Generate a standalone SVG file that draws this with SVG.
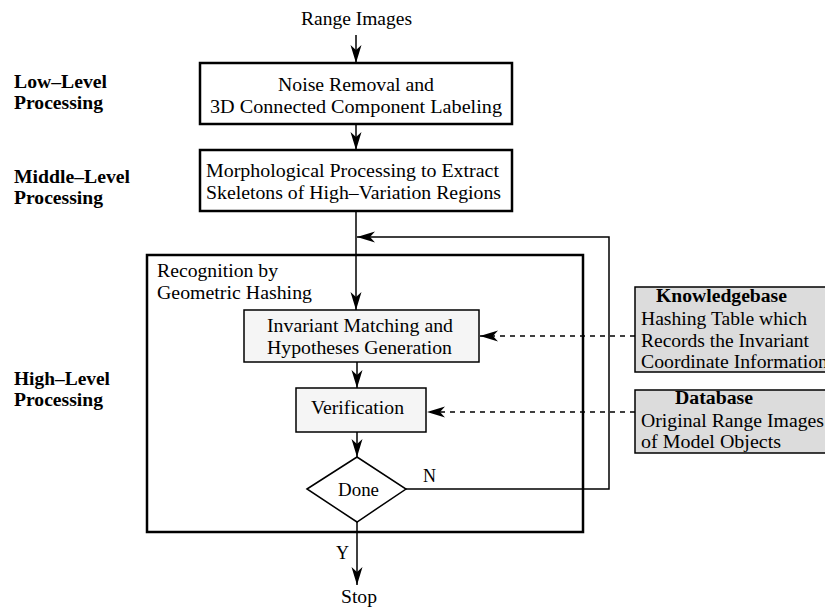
<svg xmlns="http://www.w3.org/2000/svg" width="825" height="610" viewBox="0 0 825 610">
<defs>
<marker id="ah" viewBox="-19 -6 20 12" markerWidth="20" markerHeight="12" refX="0" refY="0" markerUnits="userSpaceOnUse" orient="auto">
<path d="M0,0 L-18,-5.5 L-13,0 L-18,5.5 Z" fill="#000"/>
</marker>
</defs>
<style>
text{font-family:"Liberation Serif","Times New Roman",serif;font-size:18px;fill:#000}
.b{font-weight:bold}
.thick{fill:#fff;stroke:#000;stroke-width:2.5}
.inner{fill:#f5f5f5;stroke:#000;stroke-width:1.5}
.gray{fill:#dcdcdc;stroke:#000;stroke-width:1.5}
.c{fill:none;stroke:#000;stroke-width:1.5}
.d{fill:none;stroke:#000;stroke-width:1.5;stroke-dasharray:5,5}
</style>
<rect width="825" height="610" fill="#fff"/>

<g id="labels">
<text class="b" x="14" y="88" textLength="93" lengthAdjust="spacingAndGlyphs">Low–Level</text>
<text class="b" x="14" y="109" textLength="89" lengthAdjust="spacingAndGlyphs">Processing</text>
<text class="b" x="14" y="183" textLength="116" lengthAdjust="spacingAndGlyphs">Middle–Level</text>
<text class="b" x="14" y="204" textLength="89" lengthAdjust="spacingAndGlyphs">Processing</text>
<text class="b" x="14" y="385" textLength="96" lengthAdjust="spacingAndGlyphs">High–Level</text>
<text class="b" x="14" y="406" textLength="89" lengthAdjust="spacingAndGlyphs">Processing</text>
</g>

<g id="range-images">
<text x="301" y="25" textLength="111" lengthAdjust="spacingAndGlyphs">Range Images</text>
</g>

<g id="noise-removal">
<rect class="thick" x="200" y="63" width="312" height="61"/>
<text x="278" y="91" textLength="156" lengthAdjust="spacingAndGlyphs">Noise Removal and</text>
<text x="210" y="113" textLength="292" lengthAdjust="spacingAndGlyphs">3D Connected Component Labeling</text>
</g>

<g id="morphological">
<rect class="thick" x="200" y="150" width="312" height="61"/>
<text x="206" y="177" textLength="293" lengthAdjust="spacingAndGlyphs">Morphological Processing to Extract</text>
<text x="206" y="199" textLength="295" lengthAdjust="spacingAndGlyphs">Skeletons of High–Variation Regions</text>
</g>

<g id="recognition">
<rect class="thick" x="147" y="255" width="436" height="277" fill="none"/>
<text x="157" y="277" textLength="121" lengthAdjust="spacingAndGlyphs">Recognition by</text>
<text x="157" y="299" textLength="155" lengthAdjust="spacingAndGlyphs">Geometric Hashing</text>
</g>

<g id="invariant-matching">
<rect class="inner" x="244" y="310" width="235" height="52"/>
<text x="267" y="332" textLength="186" lengthAdjust="spacingAndGlyphs">Invariant Matching and</text>
<text x="267" y="354" textLength="185" lengthAdjust="spacingAndGlyphs">Hypotheses Generation</text>
</g>

<g id="verification">
<rect class="inner" x="296" y="388" width="130" height="44"/>
<text x="311" y="414" textLength="93" lengthAdjust="spacingAndGlyphs">Verification</text>
</g>

<g id="done">
<polygon class="c" points="307,489 357,457 406,489 357,522" fill="#fff"/>
<text x="338" y="496" textLength="41" lengthAdjust="spacingAndGlyphs">Done</text>
</g>

<g id="stop">
<text x="341" y="603" textLength="36" lengthAdjust="spacingAndGlyphs">Stop</text>
</g>

<g id="knowledgebase">
<rect class="gray" x="635" y="287" width="200" height="85"/>
<text class="b" x="656" y="302" textLength="131" lengthAdjust="spacingAndGlyphs">Knowledgebase</text>
<text x="641" y="325" textLength="166" lengthAdjust="spacingAndGlyphs">Hashing Table which</text>
<text x="641" y="347" textLength="168" lengthAdjust="spacingAndGlyphs">Records the Invariant</text>
<text x="641" y="368" textLength="187" lengthAdjust="spacingAndGlyphs">Coordinate Information</text>
</g>

<g id="database">
<rect class="gray" x="635" y="390" width="200" height="63"/>
<text class="b" x="675" y="404" textLength="78" lengthAdjust="spacingAndGlyphs">Database</text>
<text x="641" y="427" textLength="183" lengthAdjust="spacingAndGlyphs">Original Range Images</text>
<text x="641" y="448" textLength="140" lengthAdjust="spacingAndGlyphs">of Model Objects</text>
</g>

<g id="connectors">
<line class="c" x1="356" y1="35" x2="356" y2="63" marker-end="url(#ah)"/>
<line class="c" x1="356" y1="124" x2="356" y2="150" marker-end="url(#ah)"/>
<line class="c" x1="356" y1="211" x2="356" y2="310" marker-end="url(#ah)"/>
<polyline class="c" points="406,489 609,489 609,237 357,237" marker-end="url(#ah)"/>
<line class="c" x1="357" y1="362" x2="357" y2="388" marker-end="url(#ah)"/>
<line class="c" x1="357" y1="432" x2="357" y2="457" marker-end="url(#ah)"/>
<line class="c" x1="357" y1="522" x2="357" y2="585" marker-end="url(#ah)"/>
<line class="d" x1="635" y1="336" x2="480" y2="336" marker-end="url(#ah)"/>
<line class="d" x1="635" y1="412" x2="427" y2="412" marker-end="url(#ah)"/>
<text x="423" y="482" textLength="13" lengthAdjust="spacingAndGlyphs">N</text>
<text x="336" y="559" textLength="13" lengthAdjust="spacingAndGlyphs">Y</text>
</g>
</svg>
